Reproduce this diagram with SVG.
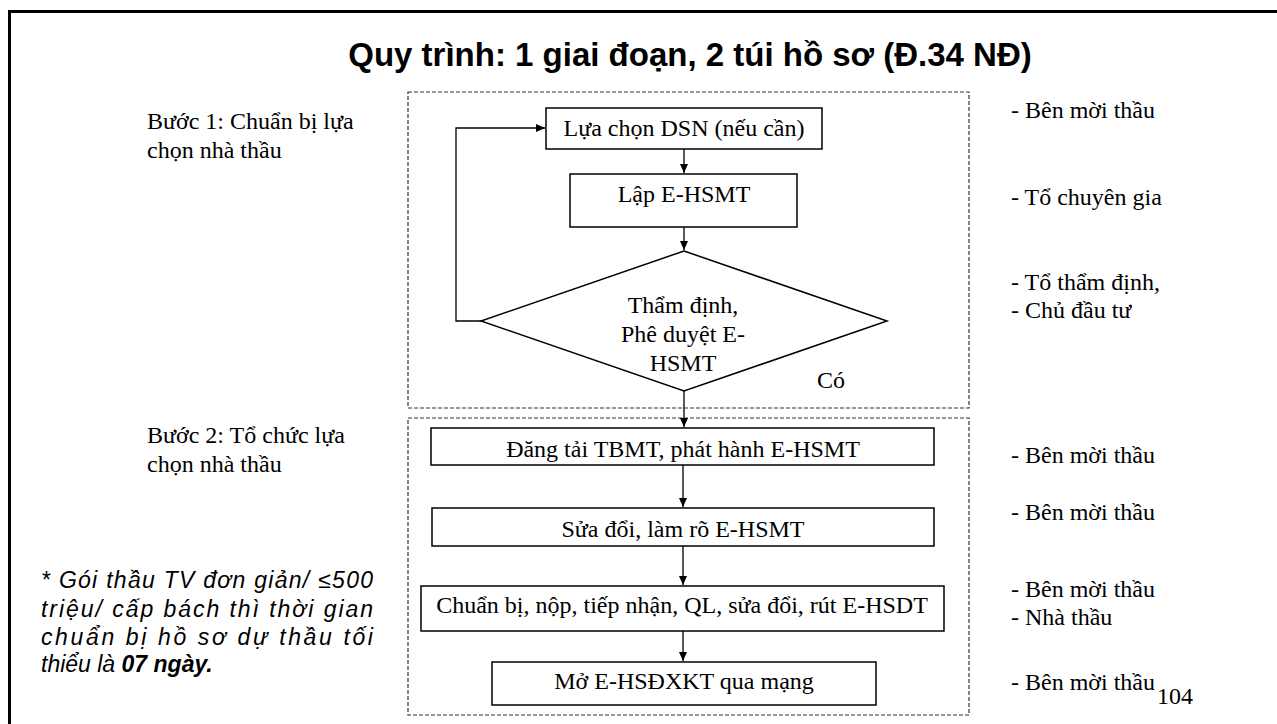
<svg xmlns="http://www.w3.org/2000/svg" width="1277" height="724" viewBox="0 0 1277 724">
<style>
.t{font-family:"Liberation Serif","Times New Roman",serif;font-size:24px;fill:#000}
.c{text-anchor:middle}
.box{fill:#fff;stroke:#000;stroke-width:1.5}
.dash{fill:none;stroke:#333;stroke-width:1.2;stroke-dasharray:4 2}
.ln{fill:none;stroke:#000;stroke-width:1.3}
.note{font-family:"Liberation Sans",Arial,sans-serif;font-size:23px;font-style:italic;fill:#000}
</style>
<defs>
<marker id="ah" markerWidth="10" markerHeight="10" refX="9" refY="5" orient="auto" markerUnits="userSpaceOnUse">
<path d="M0,1 L9,5 L0,9 Z" fill="#000"/>
</marker>
</defs>
<rect width="1277" height="724" fill="#fff"/>
<path d="M9.5,724 V11.5 H1277" fill="none" stroke="#000" stroke-width="3"/>
<text x="690" y="66" text-anchor="middle" font-family="'Liberation Sans',Arial,sans-serif" font-size="33" font-weight="bold">Quy trình: 1 giai đoạn, 2 túi hồ sơ (Đ.34 NĐ)</text>

<g id="stage1-frame"><rect class="dash" x="408" y="92" width="561" height="316"/></g>
<g id="stage2-frame"><rect class="dash" x="408" y="418" width="561" height="297"/></g>

<g id="step1-label"><text class="t" x="147" y="129">Bước 1: Chuẩn bị lựa</text><text class="t" x="147" y="158">chọn nhà thầu</text></g>
<g id="step2-label"><text class="t" x="147" y="443">Bước 2: Tổ chức lựa</text><text class="t" x="147" y="472">chọn nhà thầu</text></g>

<g id="n1"><rect class="box" x="546" y="108" width="276" height="41"/><text class="t c" x="684" y="136">Lựa chọn DSN (nếu cần)</text></g>
<g id="n2"><rect class="box" x="570" y="174" width="227" height="53"/><text class="t c" x="684" y="202">Lập E-HSMT</text></g>
<g id="n3"><polygon class="box" points="684,251 887,321 684,391 481,321"/>
<text class="t c" x="683" y="313">Thẩm định,</text><text class="t c" x="683" y="342">Phê duyệt E-</text><text class="t c" x="683" y="371">HSMT</text></g>
<g id="n4"><rect class="box" x="431" y="428" width="503" height="37"/><text class="t c" x="683" y="457">Đăng tải TBMT, phát hành E-HSMT</text></g>
<g id="n5"><rect class="box" x="432" y="508" width="502" height="38"/><text class="t c" x="683" y="537">Sửa đổi, làm rõ E-HSMT</text></g>
<g id="n6"><rect class="box" x="421" y="586" width="523" height="45"/><text class="t c" x="682" y="613">Chuẩn bị, nộp, tiếp nhận, QL, sửa đổi, rút E-HSDT</text></g>
<g id="n7"><rect class="box" x="492" y="662" width="384" height="43"/><text class="t c" x="684" y="689">Mở E-HSĐXKT qua mạng</text></g>

<g id="connectors">
<path class="ln" d="M684,149 V173" marker-end="url(#ah)"/>
<path class="ln" d="M684,227 V250" marker-end="url(#ah)"/>
<path class="ln" d="M481,321 H456 V128 H545" marker-end="url(#ah)"/>
<path class="ln" d="M684,391 V427" marker-end="url(#ah)"/>
<path class="ln" d="M683,465 V507" marker-end="url(#ah)"/>
<path class="ln" d="M683,546 V585" marker-end="url(#ah)"/>
<path class="ln" d="M683,631 V661" marker-end="url(#ah)"/>
<text class="t" x="817" y="388">Có</text>
</g>

<g id="roles">
<text class="t" x="1011" y="118">- Bên mời thầu</text>
<text class="t" x="1011" y="205">- Tổ chuyên gia</text>
<text class="t" x="1011" y="290">- Tổ thẩm định,</text>
<text class="t" x="1011" y="318">- Chủ đầu tư</text>
<text class="t" x="1011" y="463">- Bên mời thầu</text>
<text class="t" x="1011" y="520">- Bên mời thầu</text>
<text class="t" x="1011" y="597">- Bên mời thầu</text>
<text class="t" x="1011" y="625">- Nhà thầu</text>
<text class="t" x="1011" y="690">- Bên mời thầu</text>
<text class="t" x="1157" y="704">104</text>
</g>

<g id="note">
<text class="note" x="41" y="588" textLength="332" lengthAdjust="spacing">* Gói thầu TV đơn giản/ ≤500</text>
<text class="note" x="41" y="617" textLength="332" lengthAdjust="spacing">triệu/ cấp bách thì thời gian</text>
<text class="note" x="41" y="645" textLength="332" lengthAdjust="spacing">chuẩn bị hồ sơ dự thầu tối</text>
<text class="note" x="41" y="672">thiểu là <tspan font-weight="bold">07 ngày.</tspan></text>
</g>
</svg>
